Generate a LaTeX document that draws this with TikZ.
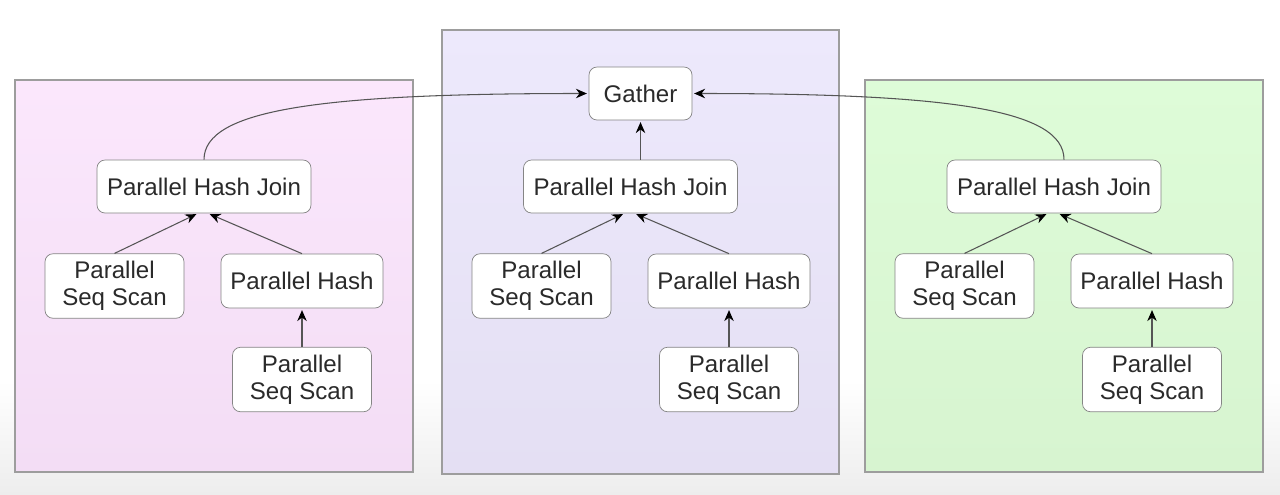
\documentclass[tikz,border=0pt]{standalone}
\usepackage{fontspec}
\setmainfont{Liberation Sans}
\usepackage{tikz}
\usetikzlibrary{arrows.meta}
\definecolor{pinkA}{HTML}{FBE7FC}
\definecolor{pinkB}{HTML}{F3DDF5}
\definecolor{lilaA}{HTML}{EDE9FC}
\definecolor{lilaB}{HTML}{E4DFF3}
\definecolor{greenA}{HTML}{DEFCD8}
\definecolor{greenB}{HTML}{D7F4D0}
\definecolor{boxline}{HTML}{858585}
\definecolor{wire}{HTML}{555555}
\definecolor{txt}{HTML}{2A2A2A}

\begin{document}
\begin{tikzpicture}[x=0.02cm,y=-0.02cm,>={Stealth[length=0.22cm,width=0.19cm,color=black]},shorten >=1pt,
    op/.style={draw=boxline,fill=white,rounded corners=0.16cm,align=center,
      text=txt,font=\fontsize{13.7pt}{15.5pt}\selectfont,inner sep=0pt},
    joinbox/.style={op,minimum width=4.28cm,minimum height=1.06cm},
    scanbox/.style={op,minimum width=2.78cm,minimum height=1.29cm},
    hashbox/.style={op,minimum width=3.24cm,minimum height=1.08cm},
    panel/.style={draw=boxline!80,line width=0.7pt},
    link/.style={->,draw=wire,line width=0.6pt}]
  \useasboundingbox (0,0) rectangle (1280,494);
  \shade[top color=white,bottom color=black!7] (0,380) rectangle (1280,494);

  % the three workers
  \shade[panel,top color=pinkA,bottom color=pinkB]   (15,80)  rectangle (413,472);
  \shade[panel,top color=lilaA,bottom color=lilaB]   (442,30) rectangle (839,474);
  \shade[panel,top color=greenA,bottom color=greenB] (865,80) rectangle (1263,472);

  \node[op,minimum width=2.06cm,minimum height=1.06cm] (g) at (640.5,93.5) {Gather};

  \node[joinbox] (lj) at (204,186.5)   {Parallel Hash Join};
  \node[scanbox] (ls) at (114.5,286)   {Parallel\\Seq Scan};
  \node[hashbox] (lh) at (302,281)     {Parallel Hash};
  \node[scanbox] (lb) at (302,379.5)   {Parallel\\Seq Scan};

  \node[joinbox] (mj) at (630.5,186.5) {Parallel Hash Join};
  \node[scanbox] (ms) at (541.5,286)   {Parallel\\Seq Scan};
  \node[hashbox] (mh) at (729,281)     {Parallel Hash};
  \node[scanbox] (mb) at (729,379.5)   {Parallel\\Seq Scan};

  \node[joinbox] (rj) at (1054,186.5)  {Parallel Hash Join};
  \node[scanbox] (rs) at (964.5,286)   {Parallel\\Seq Scan};
  \node[hashbox] (rh) at (1152,281)    {Parallel Hash};
  \node[scanbox] (rb) at (1152,379.5)  {Parallel\\Seq Scan};

  \path[every edge/.style={link}]
    (ls.north) edge ([xshift=-0.12cm]lj.south)
    (lh.north) edge ([xshift=0.08cm]lj.south)
    (lb) edge (lh)
    (ms.north) edge ([xshift=-0.12cm]mj.south)
    (mh.north) edge ([xshift=0.08cm]mj.south)
    (mb) edge (mh)
    (rs.north) edge ([xshift=-0.12cm]rj.south)
    (rh.north) edge ([xshift=0.08cm]rj.south)
    (rb) edge (rh)
    (mj.north -| g.south) edge (g.south);

  \draw[link] (lj.north) .. controls +(0,-50) and +(-269,0) .. (g.west);
  \draw[link] ([xshift=0.2cm]rj.north) .. controls +(0,-50) and +(258,0) .. (g.east);
\end{tikzpicture}
\end{document}
